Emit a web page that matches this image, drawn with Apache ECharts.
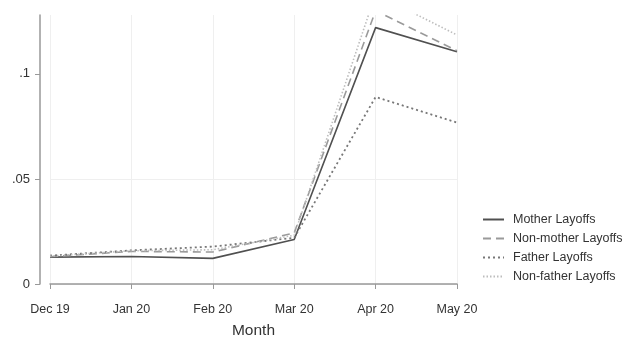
<!DOCTYPE html>
<html>
<head>
<meta charset="utf-8">
<script src="https://cdn.jsdelivr.net/npm/echarts@6/dist/echarts.min.js"></script>
<style>
html,body{margin:0;padding:0;background:#fff;}
#chart{width:624px;height:338px;}
</style>
</head>
<body>
<div id="chart"></div>
<script>
const months = ['Dec 19', 'Jan 20', 'Feb 20', 'Mar 20', 'Apr 20', 'May 20'];
const motherLayoffs = [0.0128, 0.0131, 0.0122, 0.0212, 0.1220, 0.1105];
const nonMotherLayoffs = [0.0130, 0.0155, 0.0152, 0.0243, 0.1300, 0.1110];
const fatherLayoffs = [0.0135, 0.0160, 0.0178, 0.0220, 0.0890, 0.0768];
const nonFatherLayoffs = [0.0133, 0.0158, 0.0163, 0.0232, 0.1380, 0.1185];
const yTicks = [0, 0.05, 0.1];
const yTickLabels = ['0', '.05', '.1'];
const seriesNames = ['Mother Layoffs', 'Non-mother Layoffs', 'Father Layoffs', 'Non-father Layoffs'];

const chart = echarts.init(document.getElementById('chart'), null, {renderer: 'canvas'});
const font = 'Liberation Sans, Arial, Helvetica, sans-serif';

function mk(name, data, color, type, width) {
  return {
    name: name, type: 'line', data: data, symbol: 'none', clip: true,
    lineStyle: {color: color, type: type, width: width},
    itemStyle: {color: color},
    z: 3
  };
}

chart.setOption({
  animation: false,
  backgroundColor: '#fff',
  grid: {left: 50, right: 167, top: 15, bottom: 54, containLabel: false, outerBoundsMode: 'none'},
  xAxis: {
    type: 'category', data: months, boundaryGap: false, offset: 10,
    name: 'Month', nameLocation: 'middle', nameGap: 29,
    nameTextStyle: {fontFamily: font, fontSize: 15.5, color: '#333'},
    axisLine: {lineStyle: {color: '#999', width: 1.5}},
    axisTick: {alignWithLabel: true, length: 5, lineStyle: {color: '#999'}},
    axisLabel: {fontFamily: font, fontSize: 12.5, color: '#333', margin: 9},
    splitLine: {show: true, lineStyle: {color: '#efefef', width: 1}}
  },
  yAxis: {
    type: 'value', min: 0, max: 0.128, interval: 0.05, offset: 10,
    axisLine: {show: true, lineStyle: {color: '#999', width: 1.5}},
    axisTick: {show: true, length: 5, lineStyle: {color: '#999'}, customValues: yTicks},
    axisLabel: {
      fontFamily: font, fontSize: 13, color: '#333', margin: 10,
      customValues: yTicks,
      formatter: function (v) {
        const i = yTicks.findIndex(t => Math.abs(t - v) < 1e-9);
        return i >= 0 ? yTickLabels[i] : '';
      }
    },
    splitLine: {show: true, showMaxLine: false, lineStyle: {color: '#efefef', width: 1}}
  },
  legend: {
    orient: 'vertical', left: 477, top: 208, itemWidth: 21, itemHeight: 10, itemGap: 6,
    itemStyle: {color: 'rgba(0,0,0,0)', borderWidth: 0, opacity: 0},
    textStyle: {fontFamily: font, fontSize: 12.5, color: '#333', padding: [0, 0, 0, 4]},
    data: seriesNames
  },
  series: [
    mk(seriesNames[0], motherLayoffs, '#505050', 'solid', 1.6),
    mk(seriesNames[1], nonMotherLayoffs, '#9a9a9a', [8, 5], 1.6),
    mk(seriesNames[2], fatherLayoffs, '#777777', [2, 3], 1.8),
    mk(seriesNames[3], nonFatherLayoffs, '#bdbdbd', [1.5, 2], 1.6)
  ]
});
</script>
</body>
</html>
